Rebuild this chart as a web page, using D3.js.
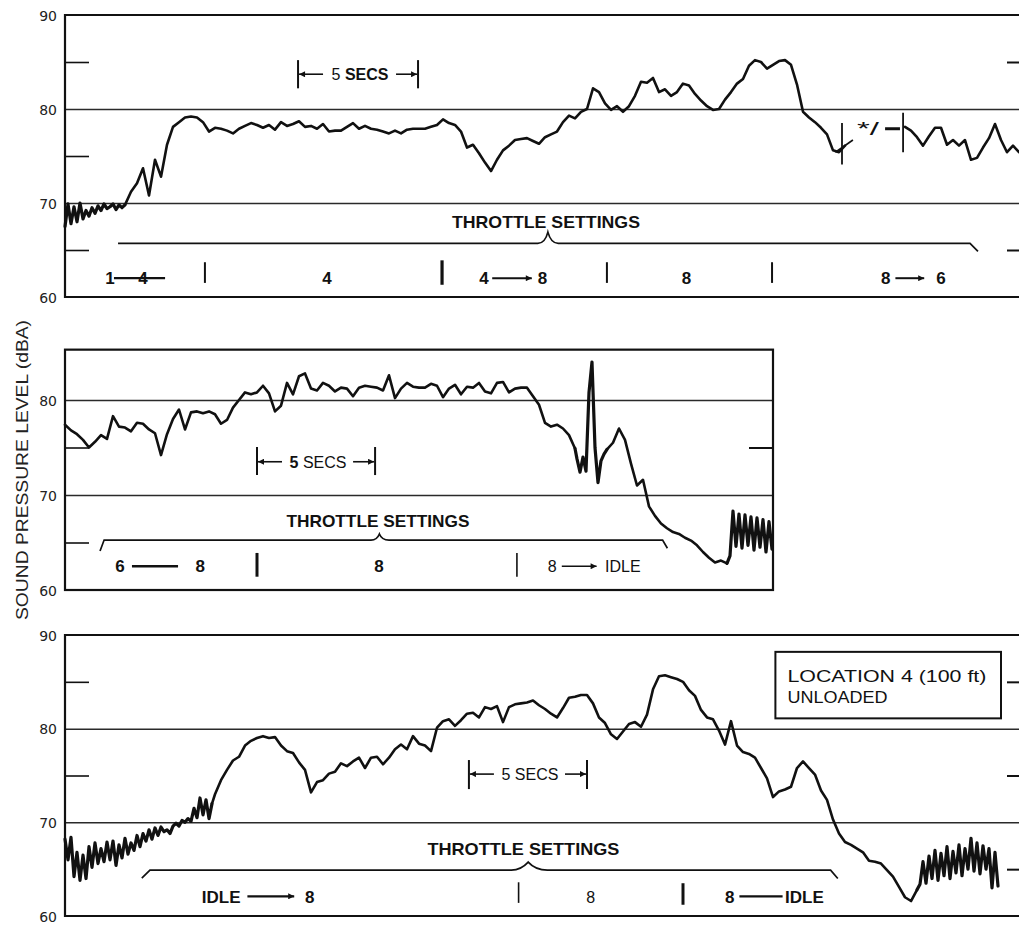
<!DOCTYPE html>
<html><head><meta charset="utf-8">
<script src="https://cdn.jsdelivr.net/npm/d3@7"></script>
<style>body{margin:0;background:#fff}svg{display:block}</style>
</head><body>
<svg id="c" width="1019" height="925"></svg>
<script>
// ---------------- DATA (time in seconds, level in dBA) ----------------
const yTickLabels = [60, 70, 80, 90];
const gridLevels = [70, 80];
const FINE = 0.125, STEP = 0.25;   // sample spacing (s)

// Panel 1 : throttle 1 -> 4 -> 8 -> 6
const p1NoiseStart = 0;
const p1Noise = [67.5,69.9,67.8,69.6,68.0,70.0,68.3,69.2,68.6,69.5,68.9,69.7,69.2,69.9,69.4,69.6,69.9,69.3,69.8,69.5,69.8];
const p1MainStart = 2.5;
const p1Main = [69.8,71.2,72.1,73.7,70.8,74.6,72.8,76.2,78.1,78.6,79.1,79.2,79.1,78.6,77.6,78.0,77.9,77.7,77.4,77.9,
 78.2,78.5,78.3,78.0,78.3,77.8,78.6,78.2,78.4,78.7,78.1,78.2,77.9,78.4,77.6,77.7,77.7,78.1,78.5,77.9,
 78.2,77.9,77.8,77.6,77.4,77.7,77.4,77.8,77.9,77.9,77.9,78.1,78.3,78.9,78.5,78.3,77.6,75.9,76.2,75.3,
 74.3,73.4,74.6,75.6,76.1,76.7,76.8,76.9,76.6,76.3,77.0,77.3,77.6,78.6,79.3,79.0,79.7,80.0,82.2,81.8,
 80.6,79.9,80.3,79.7,80.3,81.4,82.9,82.8,83.3,81.8,82.1,81.4,81.8,82.7,82.5,81.6,80.9,80.3,79.9,80.0,
 81.0,81.8,82.7,83.2,84.6,85.2,85.0,84.3,84.7,85.1,85.2,84.7,82.6,79.7,79.1,78.6,78.0,77.3,75.6,75.4,76.1];
const p1TailStart = 35;
const p1Tail = [78.1,77.7,77.0,76.1,77.1,78.0,78.0,76.2,76.7,76.1,76.7,74.6,74.8,75.9,76.9,78.4,76.7,75.4,76.1,75.4];

// Panel 2 : throttle 6 -> 8 -> idle
const p2AStart = 0;
const p2A = [77.4,76.8,76.4,75.8,75.0,75.6,76.3,75.9,78.3,77.2,77.1,76.7,77.6,77.5,76.9,76.5,74.2,76.4,78.0,79.0,
 76.9,78.7,78.8,78.6,78.8,78.5,77.5,77.9,79.2,80.0,80.8,80.6,80.8,81.5,80.7,78.8,79.4,81.8,80.6,82.5,
 82.8,81.2,81.0,81.8,81.5,80.9,81.3,81.2,80.4,81.3,81.5,81.4,81.3,81.0,82.6,80.2,81.2,81.8,81.4,81.3,
 81.3,81.7,81.5,80.3,81.2,81.6,80.6,81.4,81.3,81.8,80.9,80.7,81.8,81.9,80.8,81.2,81.3,81.3,80.4,79.5,
 77.6,77.2,77.4,77.0,76.3,74.9];
const p2BStart = 21.333;
const p2B = [73.8,72.4,74.0,72.5,80.8,84.0,75.0,71.3,73.6,74.3,74.8];
const p2CStart = 22.833;
const p2C = [75.5,77.0,75.8,73.3,71.0,71.6,68.8,67.8,67.0,66.5,66.1,65.9,65.5,65.2,64.7,64.0,63.4,62.9,63.1,62.8];
const p2DStart = 27.708;
const p2D = [63.6,68.3,64.6,68.0,64.4,67.9,64.7,67.7,64.2,67.6,64.5,67.4,64.0,67.2,64.3];

// Panel 3 : idle -> 8 -> idle
const p3AStart = 0;
const p3A = [68.2,66.0,68.4,64.2,66.8,63.8,66.5,64.0,67.4,65.2,67.8,65.6,67.2,65.8,67.9,66.0,68.0,65.4,67.6,66.2,
 68.3,66.6,67.8,67.0,68.6,67.4,68.8,68.0,69.2,68.2,69.4,68.6,69.5,69.0,69.2,68.8,69.6,69.9,69.6,70.2,
 70.0,70.4,70.1,71.5,70.5,72.6,70.8,72.4,70.4,72.0];
const p3MainStart = 6.25;
const p3Main = [73.0,74.5,75.6,76.6,77.0,78.2,78.7,79.0,79.2,79.0,79.1,78.2,77.6,77.4,76.4,75.6,73.2,74.3,74.5,75.2,
 75.4,76.3,76.0,76.5,76.9,75.8,76.9,77.0,76.2,76.9,77.8,78.3,77.8,79.2,78.4,78.2,77.6,80.1,80.8,81.0,
 80.3,80.9,81.6,81.7,81.2,82.3,82.1,82.4,80.7,82.3,82.6,82.7,82.8,83.0,82.5,82.1,81.6,81.2,82.2,83.3,
 83.4,83.6,83.6,82.7,81.2,80.6,79.4,78.9,79.7,80.5,80.7,80.2,81.5,84.2,85.6,85.7,85.5,85.3,85.0,84.1,
 83.5,82.0,81.2,81.0,79.8,78.3,80.8,78.2,77.5,77.3,76.9,75.8,74.7,72.7,73.3,73.5,73.8,75.8,76.5,75.8,
 75.1,73.4,72.4,70.3,68.8,67.9,67.6,67.2,66.8,65.9,65.8,65.6,64.9,64.2,63.1,62.0,61.6,62.8];
const p3BStart = 35.625;
const p3B = [63.4,65.8,63.5,66.4,64.0,67.0,63.8,66.7,64.3,67.4,64.0,66.9,64.6,67.6,64.3,67.2,65.0,68.3,64.8,67.8,64.5,67.5,65.0,67.2,63.0,66.8,63.2];

// ---------------- DRAWING ----------------
const svg = d3.select("#c");
const SANS = "'Liberation Sans', Arial, Helvetica, sans-serif";
const NUM = "'DejaVu Sans', 'Liberation Sans', sans-serif";
const INK = "#111";

const defs = svg.append("defs");
defs.append("marker").attr("id","ah").attr("viewBox","0 0 10 10").attr("refX",10).attr("refY",5)
  .attr("markerWidth",8).attr("markerHeight",6).attr("markerUnits","userSpaceOnUse").attr("orient","auto")
  .append("path").attr("d","M0,0L10,5L0,10Z").attr("fill",INK);

const panels = [
  {x:d3.scaleLinear([0,40],[65,1025]), y:d3.scaleLinear([60,90],[297,15]), x0:65, x1:1019, top:90, box:false,
   segs:[{t0:p1NoiseStart,step:FINE,values:p1Noise},{t0:p1MainStart,step:STEP,values:p1Main},null,{t0:p1TailStart,step:STEP,values:p1Tail}],
   labels:yTickLabels, minorL:[65,75,85], minorR:[65,85]},
  {x:d3.scaleLinear([0,29.5],[65,773]), y:d3.scaleLinear([60,80],[590,400]), x0:65, x1:773, top:85.3, box:true,
   segs:[{t0:p2AStart,step:STEP,values:p2A},{t0:p2BStart,step:FINE,values:p2B},{t0:p2CStart,step:STEP,values:p2C},{t0:p2DStart,step:FINE,values:p2D}],
   labels:[60,70,80], minorL:[65,75], minorR:[75]},
  {x:d3.scaleLinear([0,40],[65,1025]), y:d3.scaleLinear([60,90],[916,635]), x0:65, x1:1019, top:90, box:false,
   segs:[{t0:p3AStart,step:FINE,values:p3A},{t0:p3MainStart,step:STEP,values:p3Main},{t0:p3BStart,step:FINE,values:p3B}],
   labels:yTickLabels, minorL:[75,85], minorR:[65,75,85]}
];

panels.forEach((p,k)=>{
  const g = svg.append("g");
  const yT = p.y(p.top), yB = p.y(60);
  g.append("g").attr("transform",`translate(${p.x0},0)`)
    .call(d3.axisLeft(p.y).tickValues(gridLevels).tickSize(-(p.x1-p.x0)).tickFormat(""))
    .call(a=>a.select(".domain").remove())
    .selectAll("line").attr("stroke","#2a2a2a").attr("stroke-width",1.5);
  g.append("g").attr("transform",`translate(${p.x0},0)`)
    .call(d3.axisLeft(p.y).tickValues(p.minorL).tickSize(-24).tickFormat(""))
    .call(a=>a.select(".domain").remove())
    .selectAll("line").attr("stroke",INK).attr("stroke-width",1.6);
  g.append("g").attr("transform",`translate(${p.x1},0)`)
    .call(d3.axisRight(p.y).tickValues(p.minorR).tickSize(p.box?-24:-12).tickFormat(""))
    .call(a=>a.select(".domain").remove())
    .selectAll("line").attr("stroke",INK).attr("stroke-width",2);
  g.append("g").attr("transform",`translate(${p.x0},0)`)
    .call(d3.axisLeft(p.y).tickValues(p.labels).tickSize(0).tickPadding(8).tickFormat(d3.format("d")))
    .call(a=>a.select(".domain").remove())
    .selectAll("text").attr("font-family",NUM).attr("font-size",14).attr("fill","#222").attr("dy","0.36em");
  if(p.box){
    g.append("rect").attr("x",p.x0).attr("y",yT).attr("width",p.x1-p.x0).attr("height",yB-yT)
      .attr("fill","none").attr("stroke",INK).attr("stroke-width",2.2);
  } else {
    g.append("path").attr("d",`M${p.x1},${yT}H${p.x0}V${yB}H${p.x1}`).attr("fill","none").attr("stroke",INK).attr("stroke-width",2.2);
  }
  // trace: one path per recorded segment, joined to the previous one
  const line = d3.line().x(d=>p.x(d.t)).y(d=>p.y(d.v));
  let prev = null;
  p.segs.forEach(s=>{
    if(s===null){ prev=null; return; }
    const pts = s.values.map((v,i)=>({t:s.t0+i*s.step, v}));
    const data = prev ? [prev].concat(pts) : pts;
    g.append("path").datum(data).attr("d",line).attr("fill","none")
      .attr("stroke",INK).attr("stroke-width", s.step===FINE ? 3.2 : 2.6)
      .attr("stroke-linejoin","round").attr("stroke-linecap","round");
    prev = pts[pts.length-1];
  });
});

// ---------- annotation helpers ----------
function text(p,t,v,s,o={}){
  const e = svg.append("text").attr("x",p.x(t)).attr("y",p.y(v))
    .attr("font-family",o.family||SANS).attr("font-size",o.size||17).attr("font-weight",o.bold?"bold":"normal")
    .attr("text-anchor",o.anchor||"middle").attr("fill",INK).text(s);
  if(o.len) e.attr("textLength",o.len).attr("lengthAdjust","spacingAndGlyphs");
  return e;
}
function seg(p,t0,v0,t1,v1,w=1.6,arrow=false){
  const e = svg.append("line").attr("x1",p.x(t0)).attr("y1",p.y(v0)).attr("x2",p.x(t1)).attr("y2",p.y(v1))
    .attr("stroke",INK).attr("stroke-width",w);
  if(arrow) e.attr("marker-end","url(#ah)");
  return e;
}
function vbar(p,t,vTop,vBot,w=2){ return seg(p,t,vTop,t,vBot,w); }
function secs(p,t0,t1,v,vTop,vBot,bold5,boldS){
  vbar(p,t0,vTop,vBot,2); vbar(p,t1,vTop,vBot,2);
  const xm=(p.x(t0)+p.x(t1))/2, y=p.y(v);
  svg.append("line").attr("x1",p.x(t0)+25).attr("y1",y).attr("x2",p.x(t0)+1).attr("y2",y)
    .attr("stroke",INK).attr("stroke-width",1.6).attr("marker-end","url(#ah)");
  svg.append("line").attr("x1",p.x(t1)-22).attr("y1",y).attr("x2",p.x(t1)-1).attr("y2",y)
    .attr("stroke",INK).attr("stroke-width",1.6).attr("marker-end","url(#ah)");
  const tx = svg.append("text").attr("x",xm+2).attr("y",y+6).attr("text-anchor","middle")
    .attr("font-family",SANS).attr("font-size",16).attr("fill",INK);
  tx.append("tspan").attr("font-weight",bold5?"bold":"normal").text("5 ");
  tx.append("tspan").attr("font-weight",boldS?"bold":"normal").text("SECS");
}
function brace(d){
  svg.append("path").attr("d",d).attr("fill","none").attr("stroke",INK).attr("stroke-width",1.7);
}

// ---------- Panel 1 annotations ----------
(function(){
  const p = panels[0], X=p.x, Y=p.y;
  secs(p,9.71,14.71,83.7,85.2,82.2,false,true);
  text(p,20.04,67.3,"THROTTLE SETTINGS",{bold:true,size:17,len:188});
  brace(`M${X(2.21)},${Y(65.7)}H${X(19.7)}Q${X(20.0)},${Y(65.7)} ${X(20.12)},${Y(66.9)}Q${X(20.25)},${Y(65.7)} ${X(20.55)},${Y(65.7)}H${X(37.71)}L${X(38.04)},${Y(64.85)}`);
  [5.83,22.58,29.46].forEach(t=>vbar(p,t,63.7,61.5,2));
  vbar(p,15.71,63.9,61.3,3.2);
  const b={bold:true,size:17};
  seg(p,2.04,62.0,4.17,62.0,2.2);
  text(p,1.87,61.4,"1",b); text(p,3.25,61.4,"4",b);
  text(p,10.92,61.4,"4",b);
  text(p,17.46,61.4,"4",b); seg(p,17.8,62.0,19.45,62.0,2,true); text(p,19.9,61.4,"8",b);
  text(p,25.9,61.4,"8",b);
  text(p,34.2,61.4,"8",b); seg(p,34.6,62.0,35.8,62.0,2,true); text(p,36.5,61.4,"6",b);
  vbar(p,32.375,78.5,74.1,1.8);
  seg(p,32.1,75.4,32.83,76.7,1.6);
  text(p,33.0,77.2,"*/",{size:19,anchor:"start",len:22});
  seg(p,34.17,77.9,34.79,77.9,3);
  vbar(p,34.92,79.6,75.4,1.8);
})();

// ---------- Panel 2 annotations ----------
(function(){
  const p = panels[1], X=p.x, Y=p.y;
  secs(p,8.0,12.92,73.5,75.05,72.1,true,false);
  text(p,13.04,66.6,"THROTTLE SETTINGS",{bold:true,size:17,len:183});
  brace(`M${X(1.46)},${Y(64.1)}L${X(1.63)},${Y(65.26)}H${X(12.75)}Q${X(13.0)},${Y(65.26)} ${X(13.1)},${Y(65.9)}Q${X(13.2)},${Y(65.26)} ${X(13.5)},${Y(65.26)}H${X(24.9)}L${X(25.1)},${Y(64.4)}`);
  vbar(p,8.0,63.9,61.4,3); vbar(p,18.83,63.9,61.4,1.6);
  const b={bold:true,size:17};
  text(p,2.29,61.9,"6",b); seg(p,2.79,62.5,4.71,62.5,2.4); text(p,5.63,61.9,"8",b);
  text(p,13.08,61.9,"8",b);
  text(p,20.3,61.9,"8",{size:16}); seg(p,20.7,62.5,22.15,62.5,1.6,true); text(p,22.5,61.9,"IDLE",{size:16,anchor:"start"});
})();

// ---------- Panel 3 annotations ----------
(function(){
  const p = panels[2], X=p.x, Y=p.y;
  secs(p,16.83,21.75,75.15,76.65,73.55,false,false);
  text(p,19.1,66.5,"THROTTLE SETTINGS",{bold:true,size:17,len:192});
  brace(`M${X(3.2)},${Y(64.05)}L${X(3.54)},${Y(64.9)}H${X(18.6)}Q${X(19.0)},${Y(64.9)} ${X(19.3)},${Y(65.75)}Q${X(19.6)},${Y(64.9)} ${X(20.1)},${Y(64.9)}H${X(31.9)}L${X(32.2)},${Y(64.0)}`);
  vbar(p,18.9,63.6,61.4,1.6); vbar(p,25.75,63.5,61.2,3);
  const b={bold:true,size:17};
  text(p,5.7,61.4,"IDLE",{bold:true,size:17,anchor:"start"}); seg(p,7.6,62.1,9.55,62.1,2.4,true); text(p,10.2,61.4,"8",b);
  text(p,21.9,61.4,"8",{size:16});
  text(p,27.7,61.4,"8",b); seg(p,28.1,62.1,29.9,62.1,2.4); text(p,30.0,61.4,"IDLE",{bold:true,size:17,anchor:"start"});
  svg.append("rect").attr("x",X(29.6)).attr("y",Y(88.2)).attr("width",X(39.0)-X(29.6)).attr("height",Y(81.1)-Y(88.2))
    .attr("fill","#fff").attr("stroke",INK).attr("stroke-width",2);
  text(p,30.1,85.0,"LOCATION 4  (100 ft)",{size:16,anchor:"start",len:199});
  text(p,30.1,82.7,"UNLOADED",{size:16,anchor:"start",len:100});
})();

// axis title
svg.append("text").attr("transform","translate(28,470) rotate(-90)").attr("text-anchor","middle")
  .attr("font-family",SANS).attr("font-size",17).attr("fill","#222")
  .attr("textLength",300).attr("lengthAdjust","spacingAndGlyphs").text("SOUND  PRESSURE  LEVEL  (dBA)");
</script>
</body></html>
